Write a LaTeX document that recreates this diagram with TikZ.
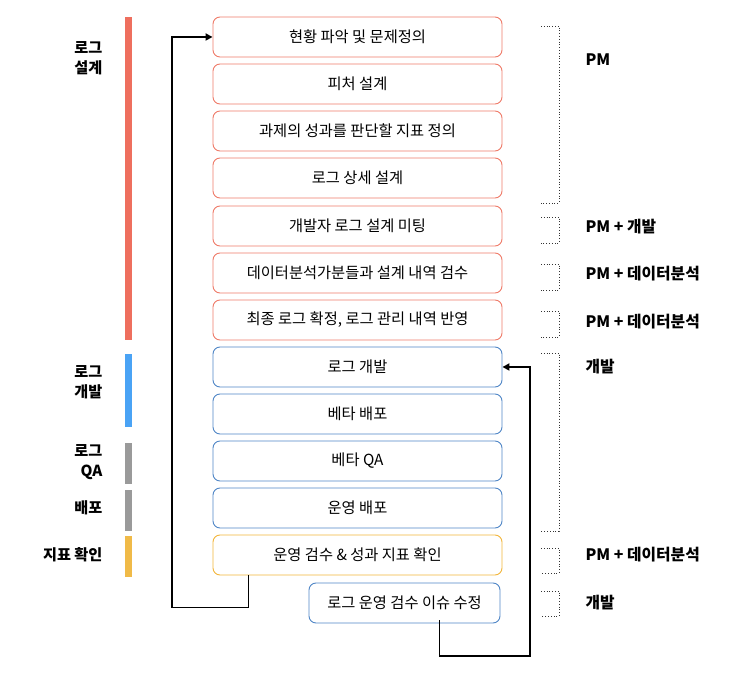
\documentclass[tikz,border=0pt]{standalone}
\usepackage{fontspec}
\setmainfont{Noto Sans CJK KR}
\usetikzlibrary{arrows.meta}
\definecolor{redc}{HTML}{EE7A68}
\definecolor{redbar}{HTML}{EE6F5E}
\definecolor{bluec}{HTML}{4F86C6}
\definecolor{bluebar}{HTML}{4AA3F5}
\definecolor{grayc}{HTML}{9A9A9A}
\definecolor{yelc}{HTML}{F2B53A}
\definecolor{yelbar}{HTML}{F0BA48}
\begin{document}
\begin{tikzpicture}[x=1pt,y=-1pt,
  stepbox/.style={draw=#1,line width=0.9pt,rounded corners=7pt,minimum width=289pt,minimum height=40pt,inner sep=0pt,font=\fontsize{15.3}{18}\selectfont,text=black},
  bar/.style={fill=#1,draw=none},
  lab/.style={font=\bfseries\fontsize{15.2}{20}\selectfont,align=right,anchor=east},
  rlab/.style={font=\bfseries\fontsize{15.8}{18}\selectfont,anchor=west},
  brk/.style={dotted,line width=0.8pt,black!80},
  conn/.style={line width=1.8pt,black}
]
\useasboundingbox (0,0) rectangle (732,692);
% boxes
\node[stepbox=redc] (b1) at (357.5,37) {현황 파악 및 문제정의};
\node[stepbox=redc] (b2) at (357.5,84) {피처 설계};
\node[stepbox=redc] (b3) at (357.5,131) {과제의 성과를 판단할 지표 정의};
\node[stepbox=redc] (b4) at (357.5,178) {로그 상세 설계};
\node[stepbox=redc] (b5) at (357.5,226) {개발자 로그 설계 미팅};
\node[stepbox=redc] (b6) at (357.5,273) {데이터분석가분들과 설계 내역 검수};
\node[stepbox=redc] (b7) at (357.5,320) {최종 로그 확정, 로그 관리 내역 반영};
\node[stepbox=bluec] (b8) at (357.5,367) {로그 개발};
\node[stepbox=bluec] (b9) at (357.5,414) {베타 배포};
\node[stepbox=bluec] (b10) at (357.5,461) {베타 QA};
\node[stepbox=bluec] (b11) at (357.5,508) {운영 배포};
\node[stepbox=yelc] (b12) at (357.5,555) {운영 검수 \& 성과 지표 확인};
\node[stepbox=bluec,minimum width=191pt] (b13) at (404.5,603) {로그 운영 검수 이슈 수정};
% left bars
\fill[bar=redbar] (125,17) rectangle (132,340);
\fill[bar=bluebar] (125,354) rectangle (132,427);
\fill[bar=grayc] (125,443) rectangle (132,484);
\fill[bar=grayc] (125,490) rectangle (132,531);
\fill[bar=yelbar] (125,536) rectangle (132,577);
% left labels
\node[lab] (l1) at (106,58) {로그\\설계};
\node[lab] (l2) at (106,382) {로그\\개발};
\node[lab] (l3) at (106,462) {로그\\QA};
\node[lab] (l4) at (106,508) {배포};
\node[lab] (l5) at (106,555) {지표 확인};
% connectors
\coordinate (c1a) at ([xshift=-109pt]b12.south);
\draw[conn,-{Triangle[length=7pt,width=7pt]}] (c1a) -- ++(0,32) -| (172,37) -- (b1.west);
\coordinate (c2a) at ([xshift=35pt]b13.south);
\draw[conn,-{Triangle[length=7pt,width=7pt]}] ([yshift=3pt]c2a) |- (530,656) |- (b8.east);
% brackets
\draw[brk] (541,26) -- (559,26) -- (559,203) -- (541,203);
\draw[brk] (541,217) -- (559,217) -- (559,243) -- (541,243);
\draw[brk] (541,264) -- (559,264) -- (559,290) -- (541,290);
\draw[brk] (541,311) -- (559,311) -- (559,337) -- (541,337);
\draw[brk] (541,353) -- (559,353) -- (559,531) -- (541,531);
\draw[brk] (541,548) -- (559,548) -- (559,573) -- (541,573);
\draw[brk] (541,591) -- (559,591) -- (559,616) -- (541,616);
% right labels
\node[rlab] (r1) at (582,60) {PM};
\node[rlab] (r2) at (582,227) {PM + 개발};
\node[rlab] (r3) at (582,274) {PM + 데이터분석};
\node[rlab] (r4) at (582,322) {PM + 데이터분석};
\node[rlab] (r5) at (582,367) {개발};
\node[rlab] (r6) at (582,555) {PM + 데이터분석};
\node[rlab] (r7) at (582,603) {개발};
\end{tikzpicture}
\end{document}
